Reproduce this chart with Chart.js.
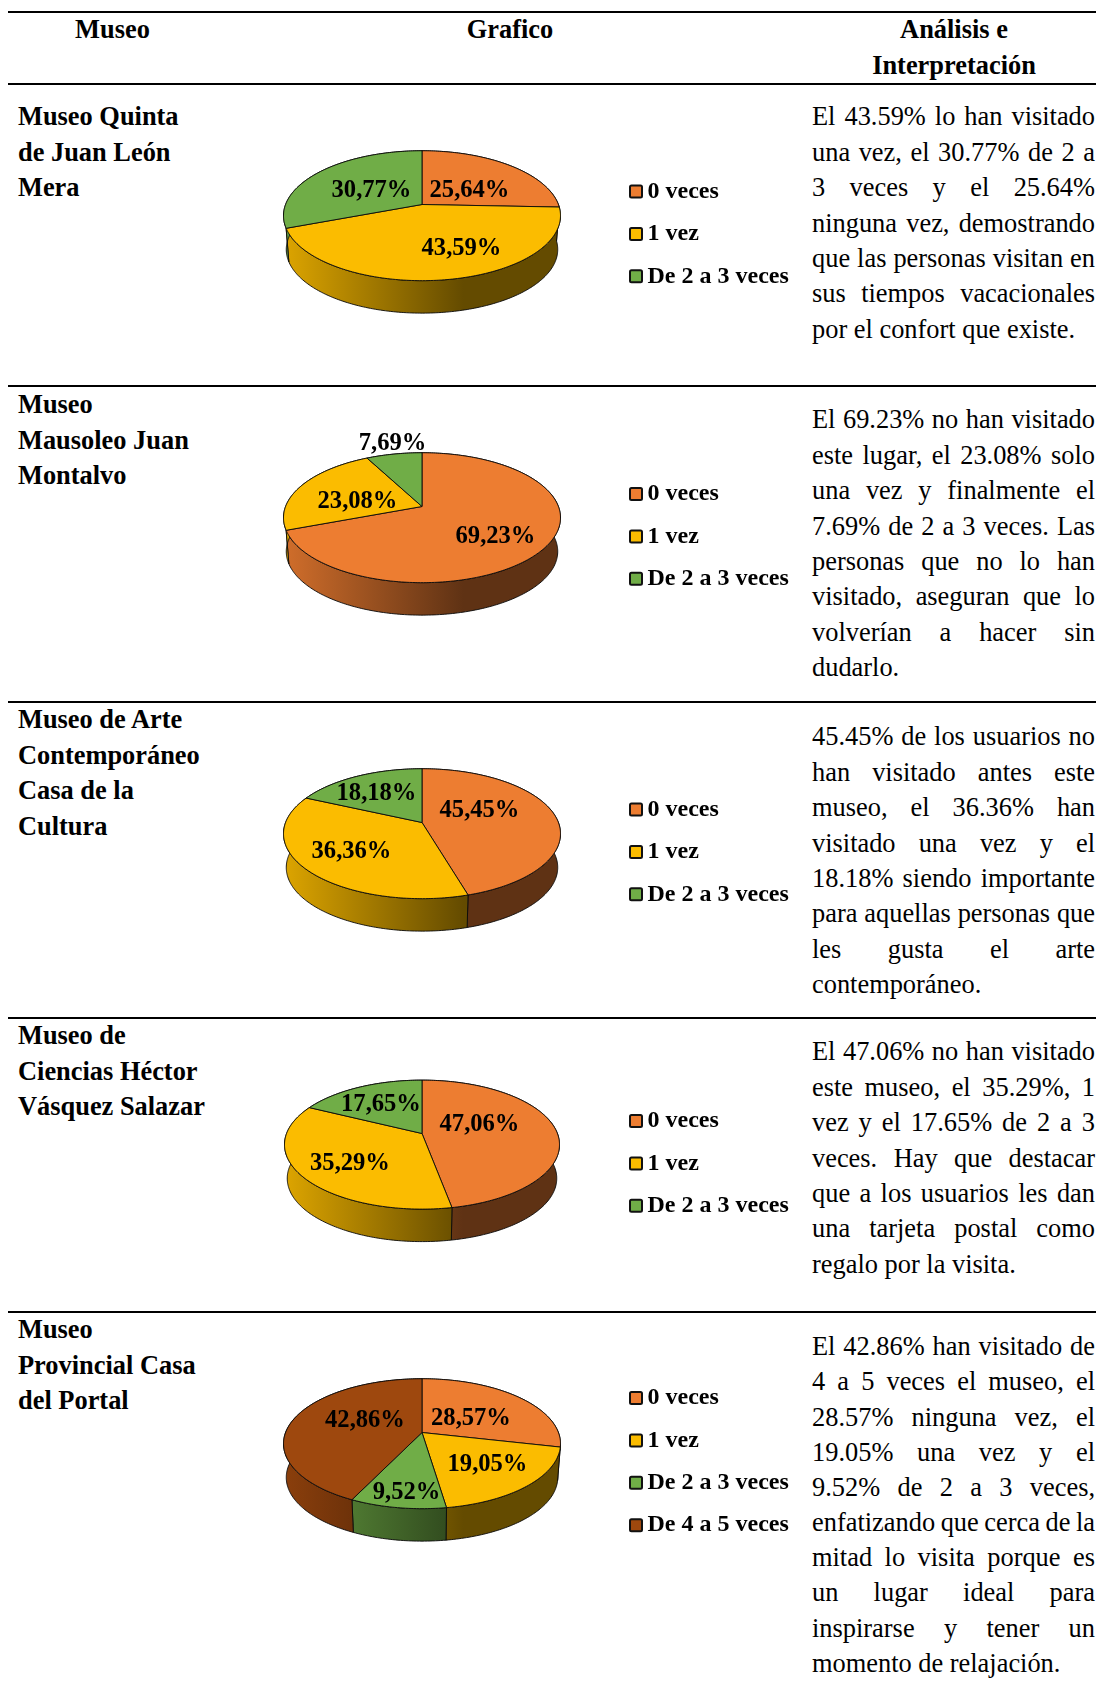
<!DOCTYPE html>
<html lang="es">
<head>
<meta charset="utf-8">
<title>Museos</title>
<script src="https://cdn.jsdelivr.net/npm/chart.js"></script>
<style>
    html, body { margin: 0; background: #fff; }
    #pagina { position: relative; width: 1096px; height: 1690px; overflow: hidden; font-family: "Liberation Serif", serif; color: #000; font-size: 26.4px; line-height: 35.4px; }
    .regla { position: absolute; left: 8px; right: 0; height: 2px; background: #000; }
    .bloque { position: absolute; white-space: nowrap; }
    .nombre { left: 18px; font-weight: bold; }
    .cabecera { font-weight: bold; text-align: center; transform: translateX(-50%); }
    .analisis { left: 812px; width: 283px; }
    .analisis div { text-align: justify; text-align-last: justify; white-space: normal; }
    .analisis div:last-child { text-align-last: left; }
    canvas { position: absolute; left: 240px; }
</style>
</head>
<body>
<div id="pagina"></div>
<script>
// ==============================
// Datos
// ==============================
var categorias3 = ["0 veces", "1 vez", "De 2 a 3 veces"];
var categorias4 = ["0 veces", "1 vez", "De 2 a 3 veces", "De 4 a 5 veces"];

var valoresQuinta = [25.64, 43.59, 30.77];
var valoresMausoleo = [69.23, 23.08, 7.69];
var valoresArte = [45.45, 36.36, 18.18];
var valoresCiencias = [47.06, 35.29, 17.65];
var valoresPortal = [28.57, 19.05, 9.52, 42.86];

var colores = ["#ED7D31", "#FBBC00", "#70AD47", "#9E480E"];

// Posición de cada fila en la página
var filas = [
    { nombre: ["Museo Quinta", "de Juan León", "Mera"], yNombre: 116, yTexto: 116, centroY: 204, alto: 277, categorias: categorias3, valores: valoresQuinta,
      etiquetas: [[46, -15], [38, 43], [-52, -15]], yLeyenda: -13,
      texto: ["El 43.59% lo han visitado", "una vez, el 30.77% de 2 a", "3 veces y el 25.64%", "ninguna vez, demostrando", "que las personas visitan en", "sus tiempos vacacionales", "por el confort que existe."] },
    { nombre: ["Museo", "Mausoleo Juan", "Montalvo"], yNombre: 404, yTexto: 419, centroY: 506, alto: 277, categorias: categorias3, valores: valoresMausoleo,
      etiquetas: [[72, 29], [-66, -6], [-31, -64]], yLeyenda: -12.5,
      texto: ["El 69.23% no han visitado", "este lugar, el 23.08% solo", "una vez y finalmente el", "7.69% de 2 a 3 veces. Las", "personas que no lo han", "visitado, aseguran que lo", "volverían a hacer sin", "dudarlo."] },
    { nombre: ["Museo de Arte", "Contemporáneo", "Casa de la", "Cultura"], yNombre: 719, yTexto: 736, centroY: 822, alto: 277, categorias: categorias3, valores: valoresArte,
      etiquetas: [[56, -12.5], [-72, 28], [-47, -30]], yLeyenda: -13,
      texto: ["45.45% de los usuarios no", "han visitado antes este", "museo, el 36.36% han", "visitado una vez y el", "18.18% siendo importante", "para aquellas personas que", "les gusta el arte", "contemporáneo."] },
    { nombre: ["Museo de", "Ciencias Héctor", "Vásquez Salazar"], yNombre: 1035, yTexto: 1051, centroY: 1133, alto: 275, categorias: categorias3, valores: valoresCiencias,
      etiquetas: [[56, -9.5], [-73.5, 29], [-42.5, -29.5]], yLeyenda: -12.5,
      texto: ["El 47.06% no han visitado", "este museo, el 35.29%, 1", "vez y el 17.65% de 2 a 3", "veces. Hay que destacar", "que a los usuarios les dan", "una tarjeta postal como", "regalo por la visita."] },
    { nombre: ["Museo", "Provincial Casa", "del Portal"], yNombre: 1329, yTexto: 1346, interlinea: 35.15, centroY: 1432, alto: 277, categorias: categorias4, valores: valoresPortal,
      etiquetas: [[47.5, -15], [64, 31], [-17, 59], [-58.5, -13]], yLeyenda: -34.5,
      texto: ["El 42.86% han visitado de", "4 a 5 veces el museo, el", "28.57% ninguna vez, el", "19.05% una vez y el", "9.52% de 2 a 3 veces,", "enfatizando que cerca de la", "mitad lo visita porque es", "un lugar ideal para", "inspirarse y tener un", "momento de relajación."] }
];

var reglas = [12, 84, 386, 702, 1018, 1312];

// ==============================
// Tabla de texto
// ==============================
var pagina = document.getElementById("pagina");
var MEDIA_LINEA = 16.7;

function agregar(clase, x, yCentro, lineas, interlinea) {
    var d = document.createElement("div");
    d.className = "bloque " + clase;
    d.style.top = (yCentro - MEDIA_LINEA) + "px";
    if (x !== null) d.style.left = x + "px";
    if (interlinea) d.style.lineHeight = interlinea + "px";
    lineas.forEach(function (t) {
        var l = document.createElement("div");
        l.textContent = t;
        // esta línea entra muy justa en la columna
        if (t === "enfatizando que cerca de la") l.style.wordSpacing = "-1.5px";
        d.appendChild(l);
    });
    pagina.appendChild(d);
}

reglas.forEach(function (y) {
    var r = document.createElement("div");
    r.className = "regla";
    r.style.top = (y - 1) + "px";
    pagina.appendChild(r);
});

agregar("cabecera", 112.5, 29, ["Museo"]);
agregar("cabecera", 510, 29, ["Grafico"]);
agregar("cabecera", 954, 29, ["Análisis e", "Interpretación"]);

filas.forEach(function (f) {
    agregar("nombre", null, f.yNombre, f.nombre);
    agregar("analisis", null, f.yTexto, f.texto, f.interlinea);
});

// ==============================
// Pastel 3D: se dibuja desde los arcos que calcula Chart.js
// ==============================
var K = 0.1725;      // perspectiva
var ANCHO = 0.985;
var ALTO = 0.455;
var FONDO_ESCALA = 0.98;
var FONDO_DY = 34;

function proyectar(arco, ang, escala, dy) {
    var R = arco.outerRadius;
    var w = 1 - K * Math.sin(ang);
    return {
        x: arco.x + escala * ANCHO * R * Math.cos(ang) / w,
        y: arco.y + dy + escala * ALTO * R * Math.sin(ang) / w
    };
}

function oscurecer(hex, f) {
    var n = parseInt(hex.slice(1), 16);
    var r = Math.round((n >> 16 & 255) * f);
    var g = Math.round((n >> 8 & 255) * f);
    var b = Math.round((n & 255) * f);
    return "rgb(" + r + "," + g + "," + b + ")";
}

function trazarBorde(ctx, arco, desde, hasta, escala, dy) {
    var pasos = Math.max(2, Math.ceil(Math.abs(hasta - desde) * 60));
    for (var i = 0; i <= pasos; i++) {
        var p = proyectar(arco, desde + (hasta - desde) * i / pasos, escala, dy);
        ctx.lineTo(p.x, p.y);
    }
}

var pastel3D = {
    id: "pastel3D",
    beforeDatasetsDraw: function (chart) {
        var ctx = chart.ctx;
        var arcos = chart.getDatasetMeta(0).data;
        var colorBorde = "rgba(10,10,10,0.9)";
        ctx.save();
        ctx.lineJoin = "round";
        ctx.lineWidth = 1;
        ctx.strokeStyle = colorBorde;

        // paredes
        arcos.forEach(function (a, i) {
            var color = chart.data.datasets[0].backgroundColor[i];
            var g = ctx.createLinearGradient(a.x - a.outerRadius, 0, a.x + a.outerRadius, 0);
            g.addColorStop(0, oscurecer(color, 0.88));
            g.addColorStop(0.65, oscurecer(color, 0.4));
            g.addColorStop(1, oscurecer(color, 0.4));
            ctx.beginPath();
            trazarBorde(ctx, a, a.startAngle, a.endAngle, 1, 0);
            trazarBorde(ctx, a, a.endAngle, a.startAngle, FONDO_ESCALA, FONDO_DY);
            ctx.closePath();
            ctx.fillStyle = g;
            ctx.fill();
            ctx.stroke();
        });

        // cara superior
        arcos.forEach(function (a, i) {
            ctx.beginPath();
            ctx.moveTo(a.x, a.y);
            trazarBorde(ctx, a, a.startAngle, a.endAngle, 1, 0);
            ctx.closePath();
            ctx.fillStyle = chart.data.datasets[0].backgroundColor[i];
            ctx.fill();
            ctx.stroke();
        });
        ctx.restore();
        return false;
    },
    afterDraw: function (chart) {
        var ctx = chart.ctx;
        var op = chart.options.plugins.pastel3D;
        var arcos = chart.getDatasetMeta(0).data;
        var centro = arcos[0];
        ctx.save();
        ctx.fillStyle = "#000";
        ctx.font = "bold 24.6px 'Liberation Serif'";
        ctx.textAlign = "center";
        ctx.textBaseline = "middle";
        chart.data.datasets[0].data.forEach(function (v, i) {
            var texto = v.toFixed(2).replace(".", ",") + "%";
            ctx.fillText(texto, centro.x + op.etiquetas[i][0] + 1.5, centro.y + op.etiquetas[i][1] + 1);
        });

        // leyenda
        ctx.textAlign = "left";
        ctx.font = "bold 24px 'Liberation Serif'";
        chart.data.labels.forEach(function (t, i) {
            var y = centro.y + op.yLeyenda + i * 42.4;
            ctx.beginPath();
            ctx.roundRect(390, y - 6, 12, 12, 1.5);
            ctx.fillStyle = chart.data.datasets[0].backgroundColor[i];
            ctx.fill();
            ctx.lineWidth = 2;
            ctx.strokeStyle = "#111";
            ctx.stroke();
            ctx.fillStyle = "#000";
            ctx.fillText(t, 407.5, y);
        });
        ctx.restore();
    }
};

filas.forEach(function (f) {
    var lienzo = document.createElement("canvas");
    lienzo.style.top = (f.centroY - f.alto / 2) + "px";
    lienzo.style.width = "560px";
    lienzo.style.height = f.alto + "px";
    lienzo.width = 560;
    lienzo.height = f.alto;
    pagina.appendChild(lienzo);

    new Chart(lienzo.getContext("2d"), {
        type: "pie",
        data: {
            labels: f.categorias,
            datasets: [{
                data: f.valores,
                backgroundColor: colores.slice(0, f.valores.length),
                borderWidth: 0,
                hoverOffset: 0
            }]
        },
        options: {
            responsive: false,
            animation: false,
            events: [],
            layout: { padding: { right: 196 } },
            plugins: {
                legend: { display: false },
                tooltip: { enabled: false },
                pastel3D: { etiquetas: f.etiquetas, yLeyenda: f.yLeyenda }
            }
        },
        plugins: [pastel3D]
    });
});
</script>
</body>
</html>
